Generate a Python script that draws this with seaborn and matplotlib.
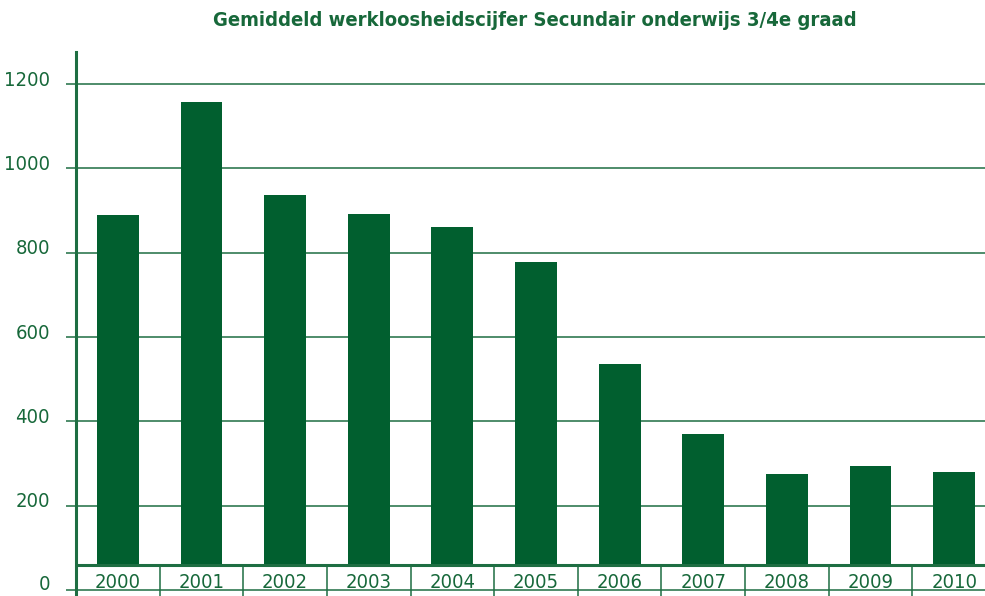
import matplotlib
matplotlib.use("Agg")
import matplotlib.pyplot as plt
import matplotlib.transforms as mtransforms
import seaborn as sns
import pandas as pd

years = ["2000", "2001", "2002", "2003", "2004", "2005", "2006", "2007", "2008", "2009", "2010"]
values = [889, 1157, 936, 891, 860, 777, 535, 371, 276, 295, 280]
yticks = [0, 200, 400, 600, 800, 1000, 1200]
title = "Gemiddeld werkloosheidscijfer Secundair onderwijs 3/4e graad"

bar_color = "#015F2F"
line_color = "#1E6E42"
text_color = "#17683A"

sns.set_theme(style="white")
plt.rcParams["font.family"] = ["DejaVu Sans"]
plt.rcParams["font.stretch"] = "condensed"

df = pd.DataFrame({"year": years, "value": values})

fig = plt.figure(figsize=(9.85, 5.96), dpi=100)
W, H = 985, 596
left_px, right_px, top_px, bottom_px = 76, 996, 52, 596
ax = fig.add_axes([left_px / W, 1 - bottom_px / H, (right_px - left_px) / W, (bottom_px - top_px) / H])

sns.barplot(data=df, x="year", y="value", color=bar_color, width=0.5, saturation=1,
            linewidth=0, ax=ax, zorder=2)

ax.set_xlim(-0.5, len(years) - 0.5)
ax.set_ylim(-14, 1276)
band = 59

ax.set_yticks(yticks)
ax.set_yticklabels([str(v) for v in yticks])
ax.tick_params(axis="y", length=7.2, width=1.1, color=line_color, pad=11.5,
               labelsize=14.5, labelcolor=text_color, left=True)
for lab in ax.get_yticklabels():
    lab.set_fontstretch("condensed")
    off = 0.08 if lab.get_text() == "0" else 0.06
    lab.set_transform(lab.get_transform() + mtransforms.ScaledTranslation(0, off, fig.dpi_scale_trans))

for v in yticks[1:]:
    ax.axhline(v, color=line_color, lw=1.1, zorder=0)

ax.set_xticks([])
ax.set_xlabel("")
ax.set_ylabel("")

ax.axhspan(0, band, color="white", zorder=3, lw=0)
ax.axhline(band, color=line_color, lw=2.2, zorder=4)
ax.axhline(0, color=line_color, lw=1.1, zorder=4)
for k in range(1, len(years)):
    ax.plot([k - 0.5, k - 0.5], [-14, band], color=line_color, lw=1.1, zorder=4, clip_on=False)
for i, y in enumerate(years):
    ax.text(i, 19, y, ha="center", va="center", fontsize=14.5, color=text_color,
            fontstretch="condensed", zorder=5)

for s in ["top", "right", "bottom"]:
    ax.spines[s].set_visible(False)
ax.spines["left"].set_color(line_color)
ax.spines["left"].set_linewidth(2.2)
ax.spines["left"].set_zorder(6)

fig.text(535 / W, 1 - 20 / H, title, ha="center", va="center", fontsize=14.5,
         fontweight="bold", fontstretch="condensed", color=text_color)

fig.savefig("out.png", dpi=100)
